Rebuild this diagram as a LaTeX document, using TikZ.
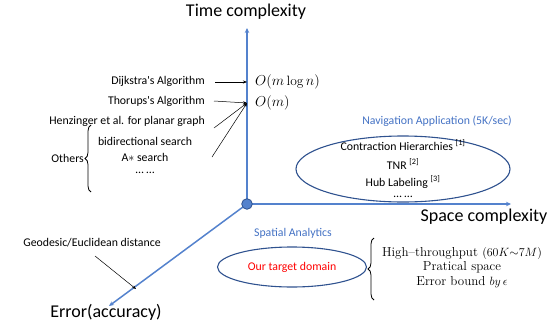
\documentclass[tikz,border=0pt]{standalone}
\usepackage{fontspec}
\newfontfamily\cf{Carlito}
\usetikzlibrary{arrows.meta,decorations.pathreplacing,shapes.geometric}
\definecolor{axblue}{RGB}{84,130,205}
\definecolor{dotedge}{RGB}{47,82,143}
\definecolor{ellblue}{RGB}{47,82,143}
\definecolor{ttlblue}{RGB}{68,114,196}
\definecolor{tgtred}{RGB}{255,0,0}
\begin{document}
\begin{tikzpicture}[x=1pt,y=-1pt,
  lbl/.style={font=\cf\fontsize{11.8}{14}\selectfont, inner sep=0pt},
  big/.style={font=\cf\fontsize{18}{21}\selectfont, inner sep=0pt},
  ser/.style={font=\fontsize{13}{15}\selectfont, inner sep=0pt},
  mth/.style={font=\fontsize{13.5}{15}\selectfont, inner sep=0pt},
  axisline/.style={draw=axblue, line width=1.5pt, -{Stealth[length=5pt,width=4.5pt]}},
  ptr/.style={draw=black, line width=0.5pt, -{Stealth[length=4pt,width=3pt]}},
  ell/.style={draw=ellblue, line width=1.1pt, ellipse},
  bracestyle/.style={decorate, decoration={brace, amplitude=6pt}, line width=0.8pt}
]
\useasboundingbox (0,0) rectangle (555,327);
% axes
\coordinate (O) at (247,204);
\coordinate (ty) at (247,28);
\coordinate (tx) at (511,204);
\coordinate (te) at (109,306);
\draw[axisline] (O) -- (ty);
\draw[axisline] (O) -- (tx);
\draw[axisline] (O) -- (te);
\fill[axblue, draw=dotedge, line width=0.8pt] (O) circle (5.3);
\node[big] (time) at (246,12) {Time complexity};
\node[big] (space) at (484,217) {Space complexity};
\node[big] (err) at (106,312) {Error(accuracy)};
% time complexity points
\coordinate (p1) at (247,82);
\coordinate (p2) at (247,103);
\node[mth, anchor=west] (c1) at (255,82) {$O(m\log n)$};
\node[mth, anchor=west] (c2) at (255,103) {$O(m)$};
\node[lbl, anchor=east] (dij) at (205,81) {Dijkstra's Algorithm};
\node[lbl, anchor=east] (tho) at (205,101) {Thorups's Algorithm};
\node[lbl, anchor=east] (hen) at (205,121) {Henzinger et al. for planar graph};
\node[lbl] (bid) at (145,141) {bidirectional search};
\node[lbl] (astar) at (145,157) {A$\ast$ search};
\node[lbl] (dots1) at (145,173) {\dots\ \dots};
\node[lbl, anchor=east] (oth) at (84,158) {Others};
\coordinate (b1a) at (91,192);
\coordinate (b1b) at (91,125);
\draw[bracestyle] (b1a) -- (b1b);
\coordinate (s1) at (215,82);
\coordinate (s2) at (214,101);
\coordinate (s3) at (214,128);
\coordinate (s4) at (212,157);
\draw[ptr] (s1) -- (p1);
\draw[ptr] (s2) -- (p2);
\draw[ptr] (s3) -- (p2);
\draw[ptr] (s4) -- (p2);
% navigation
\node[lbl, text=ttlblue] (nav) at (437,121) {Navigation Application (5K/sec)};
\node[ell, minimum width=214pt, minimum height=66pt] (e1) at (403,169) {};
\node[lbl] (ch) at (403,145) {Contraction Hierarchies \textsuperscript{[1]}};
\node[lbl] (tnr) at (403,164) {TNR \textsuperscript{[2]}};
\node[lbl] (hub) at (403,182) {Hub Labeling \textsuperscript{[3]}};
\node[lbl] (dots2) at (403,197) {\dots\ \dots};
% spatial analytics
\node[lbl, text=ttlblue] (spa) at (293,233) {Spatial Analytics};
\node[ell, minimum width=149pt, minimum height=40pt] (e2) at (292,267) {};
\node[lbl, text=tgtred] (tgt) at (292,267) {Our target domain};
\coordinate (b2a) at (374,300);
\coordinate (b2b) at (374,238);
\draw[bracestyle] (b2a) -- (b2b);
\node[ser] (ht) at (462,253) {High--throughput $(60K{\sim}7M)$};
\node[ser] (ps) at (462,267) {Pratical space};
\node[ser] (eb) at (462,282) {Error bound $by\,\epsilon$};
% geodesic
\node[lbl] (geo) at (92,243) {Geodesic/Euclidean distance};
\coordinate (g1) at (95,256);
\coordinate (g2) at (136,289);
\draw[ptr] (g1) -- (g2);
\end{tikzpicture}
\end{document}
